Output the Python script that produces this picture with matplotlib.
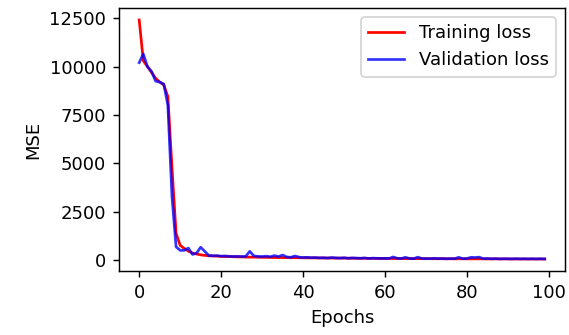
import numpy as np
import matplotlib
matplotlib.use("Agg")
from matplotlib import pyplot as plt

# loss values, one per epoch (0..99)
train_loss = [12400, 10300, 10000, 9700, 9400, 9200, 9050, 8450, 4800, 1400,
              780, 620, 480, 380, 330, 290, 260, 240, 230, 220,
              210, 200, 200, 190, 185, 180, 175, 170, 170, 165,
              160, 158, 155, 150, 150, 148, 145, 140, 140, 138,
              135, 135, 132, 130, 128, 125, 125, 122, 120, 120,
              118, 115, 115, 112, 110, 110, 108, 105, 105, 103,
              100, 100, 98, 98, 96, 95, 95, 93, 92, 92,
              90, 90, 88, 88, 87, 86, 85, 85, 84, 83,
              82, 82, 81, 80, 80, 79, 78, 78, 77, 76,
              76, 75, 75, 74, 74, 73, 73, 72, 72, 71]
val_loss = [10200, 10650, 10000, 9750, 9250, 9200, 9100, 8000, 3300, 700,
            520, 520, 640, 310, 380, 680, 470, 250, 240, 250,
            220, 230, 210, 200, 210, 200, 210, 470, 230, 210,
            200, 220, 190, 250, 200, 280, 180, 160, 230, 170,
            150, 160, 140, 150, 130, 140, 120, 150, 130, 120,
            140, 110, 130, 120, 110, 130, 100, 120, 110, 100,
            110, 100, 180, 110, 100, 160, 100, 90, 170, 100,
            95, 90, 110, 90, 100, 85, 95, 90, 160, 90,
            100, 160, 150, 170, 90, 100, 85, 95, 80, 90,
            85, 80, 90, 80, 85, 80, 85, 80, 85, 80]
epochs = np.arange(len(train_loss))
y_ticks = [0, 2500, 5000, 7500, 10000, 12500]

fig = plt.figure(figsize=(569 / 130, 335 / 130), dpi=130)
ax = fig.add_axes([0.209, 0.191, 0.784, 0.785])
ax.plot(epochs, train_loss, color='red', label='Training loss')
ax.plot(epochs, val_loss, color='blue', alpha=0.8, label='Validation loss')
ax.set_yticks(y_ticks)
ax.set_xlabel('Epochs')
ax.set_ylabel('MSE')
ax.legend(loc='upper right')
fig.savefig('out.png', dpi=130)
